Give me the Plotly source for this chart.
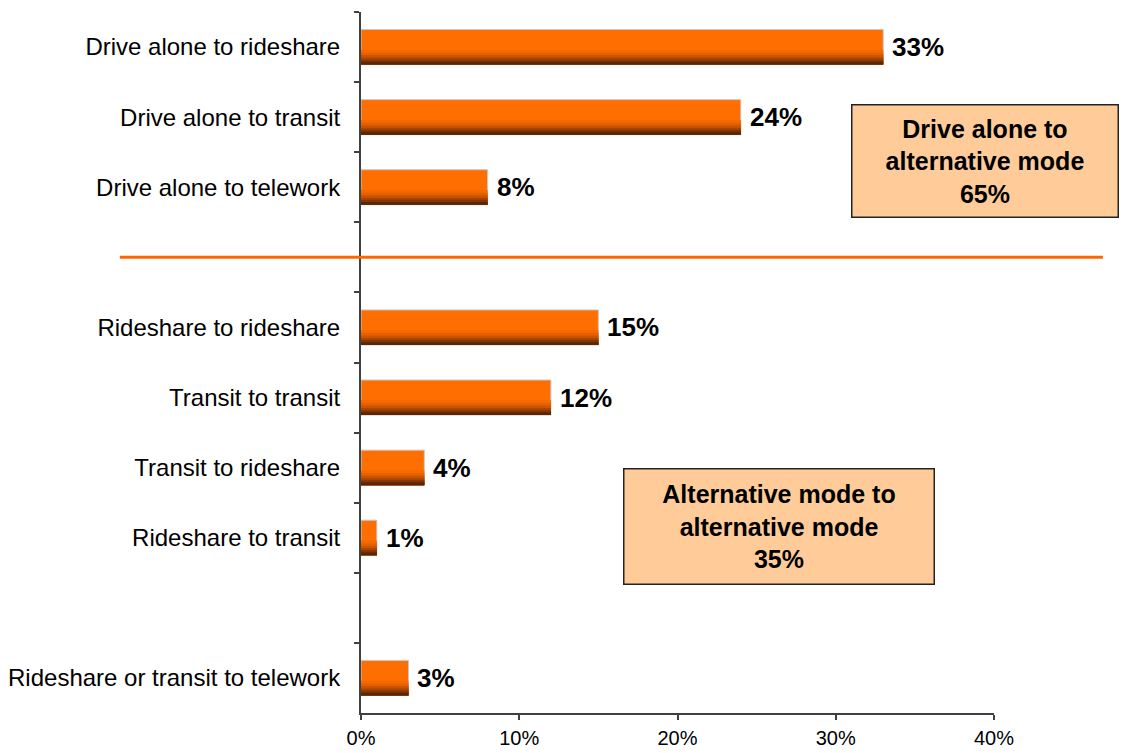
import plotly.graph_objects as go

# Commute mode shifts (share of respondents); blank rows separate the groups
categories = [
    "Drive alone to rideshare",
    "Drive alone to transit",
    "Drive alone to telework",
    " ",
    "Rideshare to rideshare",
    "Transit to transit",
    "Transit to rideshare",
    "Rideshare to transit",
    "  ",
    "Rideshare or transit to telework",
]
shares = [0.33, 0.24, 0.08, None, 0.15, 0.12, 0.04, 0.01, None, 0.03]
value_labels = ["33%", "24%", "8%", "", "15%", "12%", "4%", "1%", "", "3%"]

group_titles = ["Drive alone to<br>alternative mode<br>65%",
                "Alternative mode to<br>alternative mode<br>35%"]

FONT = "Liberation Sans, Arial, sans-serif"
ORANGE = "#FF6E00"
BAR_W = 0.5

fig = go.Figure()

# main bar body
fig.add_trace(go.Bar(
    y=categories, x=shares, orientation="h", width=BAR_W,
    marker=dict(color=ORANGE, line=dict(color="#c8c8c8", width=1)),
    hoverinfo="skip", showlegend=False,
))

# darker bands along the lower edge give the bars a shaded, rounded look
shade = [
    (0.42, "#F66900"),
    (0.34, "#E66000"),
    (0.27, "#CC5400"),
    (0.20, "#A84500"),
    (0.14, "#823604"),
    (0.08, "#5A2606"),
]
for frac, col in shade:
    h = BAR_W * frac
    fig.add_trace(go.Bar(
        y=categories, x=shares, orientation="h",
        width=h, offset=BAR_W / 2 - h,
        marker=dict(color=col, line=dict(width=0)),
        hoverinfo="skip", showlegend=False,
    ))

# value labels at the end of each bar
for cat, v, lab in zip(categories, shares, value_labels):
    if v is None:
        continue
    fig.add_annotation(
        x=v, y=cat, text=f"<b>{lab}</b>", showarrow=False,
        xanchor="left", yanchor="middle", xshift=7,
        font=dict(family=FONT, size=26, color="#000000"),
    )

# orange divider between the two groups
fig.add_shape(
    type="line", xref="paper", yref="y",
    x0=-0.381, x1=1.172, y0=categories[3], y1=categories[3],
    line=dict(color="#FF6600", width=3),
)

# group summary boxes
fig.add_annotation(
    xref="paper", yref="paper", x=0.985, y=0.7875,
    text=f"<b>{group_titles[0]}</b>", showarrow=False,
    xanchor="center", yanchor="middle", width=265, height=111,
    bgcolor="#FFCC99", bordercolor="#222222", borderwidth=1.5, borderpad=0,
    font=dict(family=FONT, size=25, color="#000000"),
)
fig.add_annotation(
    xref="paper", yref="paper", x=0.6596, y=0.266,
    text=f"<b>{group_titles[1]}</b>", showarrow=False,
    xanchor="center", yanchor="middle", width=309, height=114,
    bgcolor="#FFCC99", bordercolor="#222222", borderwidth=1.5, borderpad=0,
    font=dict(family=FONT, size=25, color="#000000"),
)

fig.update_layout(
    width=1122, height=753,
    margin=dict(l=361, r=128, t=12, b=40, autoexpand=False),
    paper_bgcolor="white", plot_bgcolor="white",
    barmode="overlay", bargap=0.5,
    font=dict(family=FONT, color="#000000"),
    xaxis=dict(
        range=[0, 0.40], dtick=0.1, tickformat=".0%",
        showgrid=False, zeroline=False, automargin=False,
        showline=True, linecolor="#404040", linewidth=2,
        ticks="outside", ticklen=5, tickcolor="#404040", tickwidth=1.5,
        tickfont=dict(family=FONT, size=20, color="#000000"),
        ticklabelstandoff=1,
    ),
    yaxis=dict(
        type="category", categoryorder="array", categoryarray=categories,
        autorange="reversed", automargin=False,
        showgrid=False, zeroline=False,
        showline=True, linecolor="#404040", linewidth=2,
        ticks="outside", tickson="boundaries", ticklen=5,
        tickcolor="#404040", tickwidth=1.5,
        tickfont=dict(family=FONT, size=24, color="#000000"),
        ticklabelstandoff=14,
    ),
)

fig.write_html("out.html")
